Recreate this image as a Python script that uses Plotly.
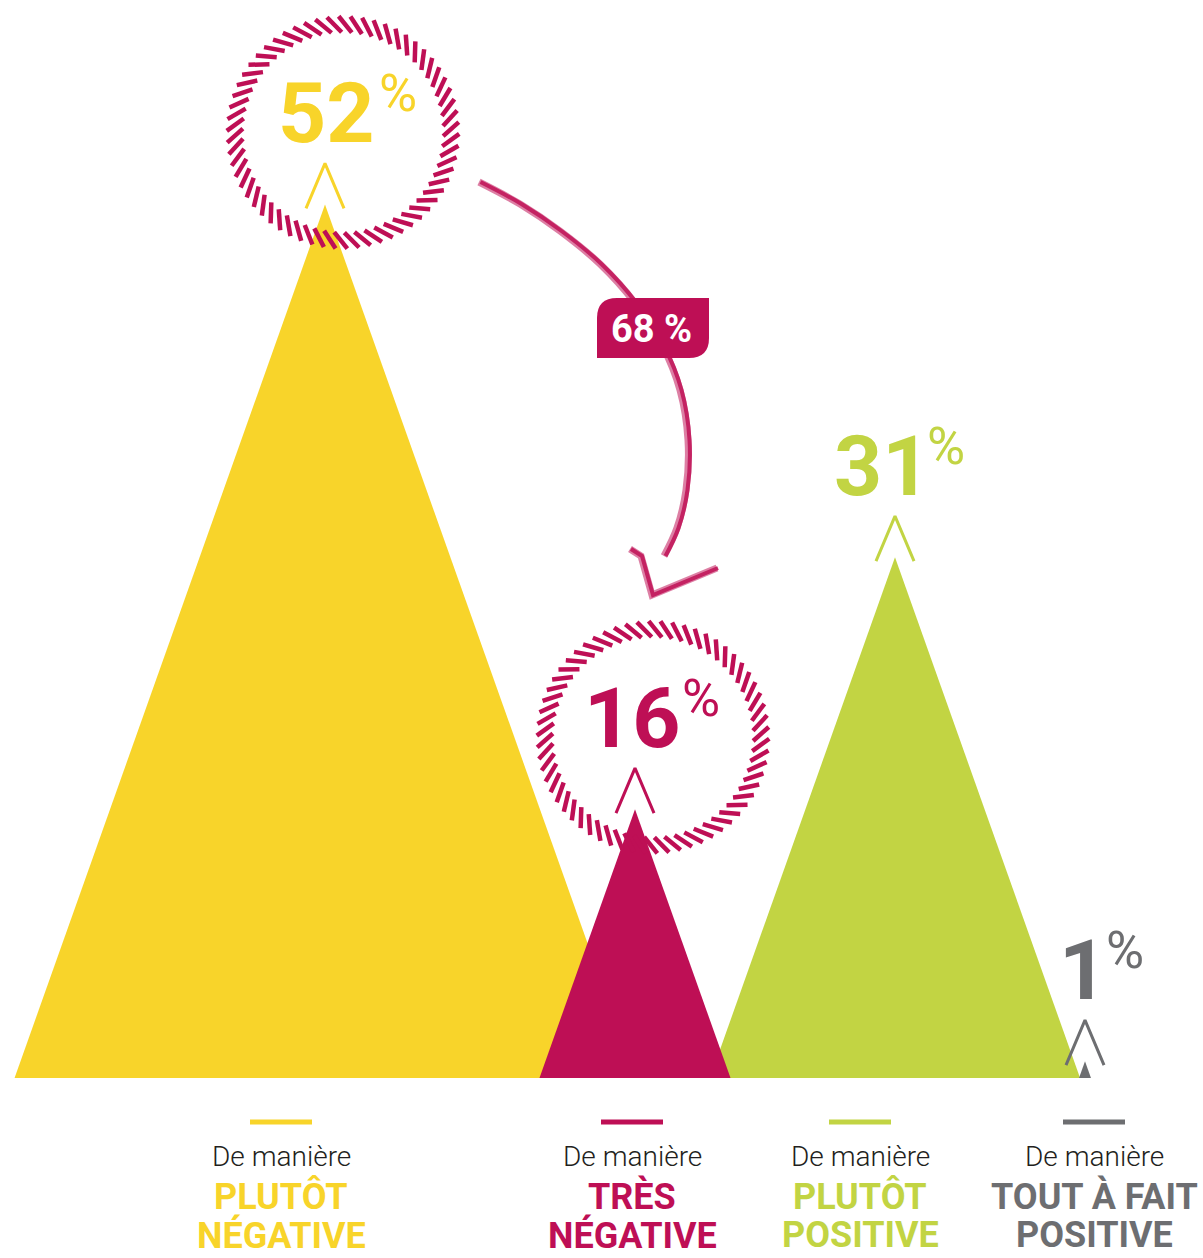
import numpy as np
import plotly.graph_objects as go

# ---------------- data ----------------
categories = ["Plutôt négative", "Très négative", "Plutôt positive", "Tout à fait positive"]
values = [52, 16, 31, 1]
value_labels = ["52", "16", "31", "1"]
prefix_text = ["De manière", "De manière", "De manière", "De manière"]
label_line1 = ["PLUTÔT", "TRÈS", "PLUTÔT", "TOUT À FAIT"]
label_line2 = ["NÉGATIVE", "NÉGATIVE", "POSITIVE", "POSITIVE"]
transfer_label = "68 %"

# ---------------- styling / layout constants ----------------
colors = ["#F8D42A", "#BE0F55", "#C2D443", "#6D6E71"]
TEXT_DARK = "#231F20"
ARROW_COL = "#C2185B"
FONT = "Roboto"

W, H = 1203, 1258
BASE = 1078          # pixel row of the baseline
S = 16.8             # pixels per percentage point (height)
K = 5.97             # half-base pixels per percentage point
peak_x = [325, 635, 895, 1085]
legend_x = [281, 632, 860, 1094]
num_anchor = [376, 682, 932, 1109]
pct_anchor = [377, 680, 925, 1104]
circled = [True, True, False, False]
draw_order = [0, 2, 1, 3]


def Y(py):
    """pixel row -> data y (percentage units)"""
    return (BASE - py) / S


fig = go.Figure()

# triangles (mountains)
for i in draw_order:
    v = values[i]
    cx = peak_x[i]
    fig.add_trace(go.Scatter(
        x=[cx - K * v, cx, cx + K * v, cx - K * v],
        y=[0, v, 0, 0],
        mode="lines", fill="toself", fillcolor=colors[i],
        line=dict(width=0, color=colors[i]), hoverinfo="skip",
        name=categories[i]))

# hatched circles around the negative peaks
N_STROKES = 62
for i in range(4):
    if not circled[i]:
        continue
    apex_py = BASE - values[i] * S
    ccx, ccy = peak_x[i] + 18, apex_py - 72
    xs, ys = [], []
    for j in range(N_STROKES):
        th = 2 * np.pi * j / N_STROKES + 0.03
        r = 108
        phi = th + np.radians(40)
        mx, my = r * np.cos(th), r * np.sin(th)
        dx, dy = 10.5 * np.cos(phi), 10.5 * np.sin(phi)
        for sgn in (-1, 1):
            xs.append(ccx + mx + sgn * dx)
            ys.append(Y(ccy - (my + sgn * dy)))
        xs.append(None)
        ys.append(None)
    fig.add_trace(go.Scatter(x=xs, y=ys, mode="lines",
                             line=dict(color=colors[1], width=4.5),
                             hoverinfo="skip"))

# chevrons above each peak
for i in range(4):
    apex_py = BASE - values[i] * S
    cx = peak_x[i]
    fig.add_trace(go.Scatter(
        x=[cx - 19, cx, cx + 19],
        y=[Y(apex_py + 4), Y(apex_py - 41), Y(apex_py + 4)],
        mode="lines", line=dict(color=colors[i], width=3),
        hoverinfo="skip"))

# curved transfer arrow (52% -> 16%)
arrow_px = [(479, 182), (520, 204), (560, 231), (600, 264), (635, 303),
            (662, 345), (680, 390), (688, 440), (686, 490), (677, 528), (664, 556)]
for w, op, dxo in [(7, 0.55, 0), (4, 0.9, 1.5)]:
    fig.add_trace(go.Scatter(
        x=[p[0] + dxo for p in arrow_px], y=[Y(p[1]) for p in arrow_px],
        mode="lines", line=dict(color=ARROW_COL, width=w, shape="spline"),
        opacity=op, hoverinfo="skip"))
head_px = [(630, 549), (641, 556), (652, 595), (717, 568)]
for w, op, dxo in [(7, 0.55, 0), (4, 0.9, 1.0)]:
    fig.add_trace(go.Scatter(
        x=[p[0] + dxo for p in head_px], y=[Y(p[1]) for p in head_px],
        mode="lines", line=dict(color=ARROW_COL, width=w),
        opacity=op, hoverinfo="skip"))

# label box of the transfer (leaf shape)
x0, x1, y0, y1, rr = 597, 709, 298, 358, 20
path = (f"M {x0},{Y(y1)} L {x0},{Y(y0 + rr)} Q {x0},{Y(y0)} {x0 + rr},{Y(y0)} "
        f"L {x1},{Y(y0)} L {x1},{Y(y1 - rr)} Q {x1},{Y(y1)} {x1 - rr},{Y(y1)} Z")
fig.add_shape(type="path", path=path, xref="x", yref="y",
              fillcolor=colors[1], line=dict(width=0), layer="above")

annotations = []
annotations.append(dict(x=651, y=Y(329), text=transfer_label, showarrow=False,
                        xanchor="center", yanchor="middle",
                        font=dict(family=FONT, size=38, color="white", weight=700)))

# big percentages
for i in range(4):
    apex_py = BASE - values[i] * S
    annotations.append(dict(
        x=num_anchor[i], y=Y(apex_py - 91), text=value_labels[i], showarrow=False,
        xanchor="right", yanchor="middle",
        font=dict(family=FONT, size=84, color=colors[i], weight=700)))
    annotations.append(dict(
        x=pct_anchor[i], y=Y(apex_py - 111), text="%", showarrow=False,
        xanchor="left", yanchor="middle",
        font=dict(family=FONT, size=52, color=colors[i], weight=400)))

# category labels at the bottom
for i in range(4):
    fig.add_shape(type="line", xref="x", yref="y",
                  x0=legend_x[i] - 31, x1=legend_x[i] + 31,
                  y0=Y(1122), y1=Y(1122),
                  line=dict(color=colors[i], width=5))
    annotations.append(dict(
        x=legend_x[i], y=Y(1156), text=prefix_text[i], showarrow=False,
        xanchor="center", yanchor="middle",
        font=dict(family=FONT, size=28, color=TEXT_DARK, weight=300)))
    annotations.append(dict(
        x=legend_x[i], y=Y(1196), text=label_line1[i], showarrow=False,
        xanchor="center", yanchor="middle",
        font=dict(family=FONT, size=36, color=colors[i], weight=700)))
    annotations.append(dict(
        x=legend_x[i], y=Y(1235), text=label_line2[i], showarrow=False,
        xanchor="center", yanchor="middle",
        font=dict(family=FONT, size=36, color=colors[i], weight=700)))

fig.update_layout(
    width=W, height=H, autosize=False,
    margin=dict(l=0, r=0, t=0, b=0, pad=0),
    paper_bgcolor="white", plot_bgcolor="white",
    showlegend=False,
    annotations=annotations,
    xaxis=dict(range=[0, W], visible=False, fixedrange=True),
    yaxis=dict(range=[Y(H), Y(0)], visible=False, fixedrange=True),
)

fig.write_html("out.html", post_script="document.body.style.margin='0';",
               config={"displayModeBar": False})
